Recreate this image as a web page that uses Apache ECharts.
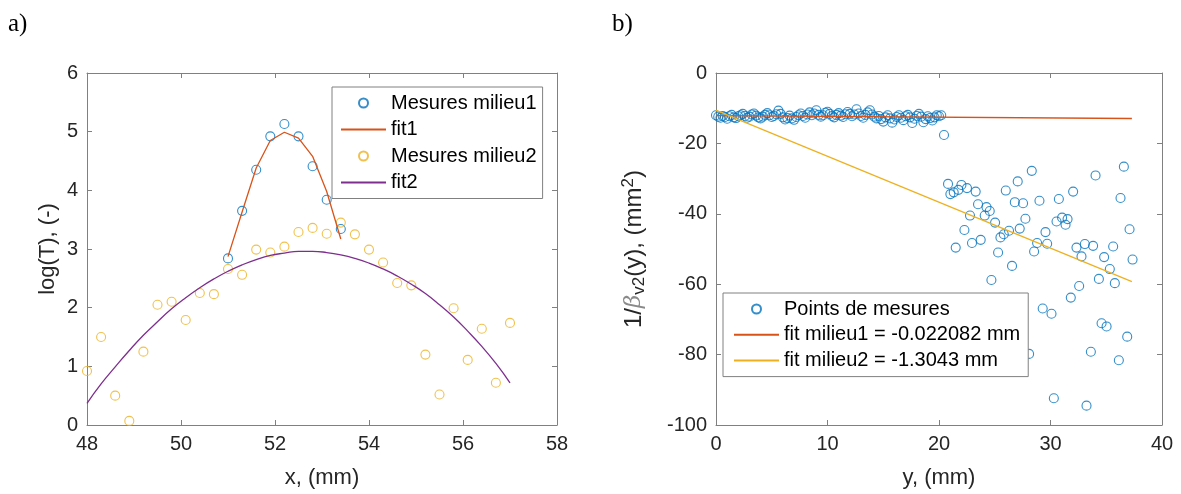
<!DOCTYPE html>
<html>
<head>
<meta charset="utf-8">
<script src="https://cdn.jsdelivr.net/npm/echarts@6/dist/echarts.min.js"></script>
<style>
html,body{margin:0;padding:0;background:#fff;}
#chart{width:1181px;height:494px;}
</style>
</head>
<body>
<div id="chart"></div>
<script>
// ---- Panel a) data ----
const xMilieu1 = [51.0, 51.3, 51.6, 51.9, 52.2, 52.5, 52.8, 53.1, 53.4];
const mesuresMilieu1 = [2.84, 3.65, 4.35, 4.92, 5.13, 4.92, 4.41, 3.84, 3.34];
const fit1Values = [2.87, 3.63, 4.38, 4.85, 4.99, 4.89, 4.58, 3.98, 3.17];

const xMilieu2 = [48.0, 48.3, 48.6, 48.9, 49.2, 49.5, 49.8, 50.1, 50.4, 50.7, 51.0, 51.3, 51.6, 51.9, 52.2, 52.5,
  52.8, 53.1, 53.4, 53.7, 54.0, 54.3, 54.6, 54.9, 55.2, 55.5, 55.8, 56.1, 56.4, 56.7, 57.0];
const mesuresMilieu2 = [0.92, 1.50, 0.50, 0.07, 1.25, 2.05, 2.10, 1.79, 2.25, 2.23, 2.66, 2.56, 2.99, 2.94, 3.04, 3.29,
  3.36, 3.26, 3.45, 3.25, 2.99, 2.77, 2.42, 2.38, 1.20, 0.52, 1.99, 1.11, 1.64, 0.72, 1.74];
const fit2Values = [0.37, 0.70, 0.99, 1.27, 1.53, 1.76, 1.98, 2.17, 2.34, 2.49, 2.62, 2.73, 2.82, 2.89, 2.93, 2.96,
  2.96, 2.94, 2.90, 2.84, 2.76, 2.66, 2.54, 2.40, 2.24, 2.05, 1.84, 1.60, 1.34, 1.05, 0.72];

// ---- Panel b) data ----
const bandX = [0.0, 0.2, 0.4, 0.6, 0.8, 1.0, 1.2, 1.4, 1.6, 1.8,
  2.0, 2.2, 2.4, 2.6, 2.8, 3.0, 3.2, 3.4, 3.6, 3.8,
  4.0, 4.2, 4.4, 4.6, 4.8, 5.0, 5.2, 5.4, 5.6, 5.8,
  6.0, 6.2, 6.4, 6.6, 6.8, 7.0, 7.2, 7.4, 7.6, 7.8,
  8.0, 8.2, 8.4, 8.6, 8.8, 9.0, 9.2, 9.4, 9.6, 9.8,
  10.0, 10.2, 10.4, 10.6, 10.8, 11.0, 11.2, 11.4, 11.6, 11.8,
  12.0, 12.2, 12.4, 12.6, 12.8, 13.0, 13.2, 13.4, 13.6, 13.8,
  14.0, 14.2, 14.4, 14.6, 14.8, 15.0, 15.2, 15.4, 15.6, 15.8,
  16.0, 16.2, 16.4, 16.6, 16.8, 17.0, 17.2, 17.4, 17.6, 17.8,
  18.0, 18.2, 18.4, 18.6, 18.8, 19.0, 19.2, 19.4, 19.6, 19.8,
  20.0, 20.2];
const bandY = [-12.0, -12.4, -12.7, -12.2, -12.5, -13.0, -12.3, -11.9, -12.6, -12.8,
  -12.3, -12.0, -11.6, -12.2, -12.7, -12.4, -11.8, -11.5, -12.1, -12.6,
  -12.9, -12.4, -11.9, -11.4, -12.0, -12.5, -12.2, -11.7, -10.7, -11.6,
  -12.6, -13.2, -12.8, -12.1, -12.9, -13.3, -12.5, -12.0, -11.5, -12.2,
  -12.7, -11.8, -11.2, -12.0, -11.5, -10.6, -11.9, -12.4, -12.0, -11.3,
  -11.0, -11.6, -12.2, -12.6, -11.9, -11.4, -12.1, -12.5, -11.7, -11.1,
  -11.6, -12.3, -11.8, -10.3, -11.5, -12.2, -12.7, -11.9, -11.2, -10.6,
  -11.8, -12.4, -12.9, -12.2, -13.1, -13.8, -12.6, -12.0, -12.9, -14.1,
  -13.2, -12.5, -12.0, -12.7, -13.4, -12.3, -11.9, -12.6, -14.2, -13.0,
  -12.2, -11.6, -12.4, -14.0, -13.1, -12.3, -12.8, -13.5, -12.6, -12.0,
  -12.3, -12.0];
const scatX = [20.45, 20.81, 21.02, 21.32, 21.74, 22.01, 22.51, 23.29, 22.78, 22.28, 21.50, 22.96, 23.74, 23.50,
  24.26, 24.10, 24.55, 25.03, 24.70, 25.30, 25.51, 25.81, 26.28, 26.55, 25.99, 27.06, 28.32, 26.80, 27.54,
  27.75, 27.24, 29.01, 28.53, 28.80, 29.55, 29.70, 30.54, 31.04, 31.53, 31.35, 30.75, 32.03, 34.04, 36.58,
  36.28, 37.09, 32.33, 33.08, 33.82, 32.78, 35.62, 34.81, 37.36, 35.32, 34.34, 35.77, 32.57, 31.82, 30.09,
  29.30, 34.58, 35.03, 36.88, 33.62, 36.13, 30.30, 33.23, 28.08];
const scatY = [-17.6, -31.5, -34.4, -33.9, -33.2, -31.8, -32.7, -33.7, -40.5, -44.6, -49.6, -48.3, -47.4, -37.3,
  -38.1, -40.5, -39.2, -42.5, -58.8, -51.0, -46.7, -45.8, -44.8, -54.8, -33.4, -30.8, -27.8, -36.7, -37.0,
  -41.4, -44.2, -36.3, -50.7, -48.3, -45.2, -48.5, -42.2, -41.1, -41.5, -43.1, -35.8, -33.7, -29.1, -26.6,
  -35.5, -44.4, -49.6, -48.6, -49.1, -52.1, -49.3, -52.3, -53.0, -55.7, -58.5, -59.7, -60.5, -63.8, -68.4,
  -66.9, -71.1, -72.0, -74.9, -79.2, -81.6, -92.4, -94.5, -79.8];
const fitLineX = [0, 37.3];
const fitMilieu1Y = [-12.10, -12.92];
const fitMilieu2Y = [-10.60, -59.25];

// tick settings
const ticksA_x = {min: 48, max: 58, interval: 2};
const ticksA_y = {min: 0, max: 6, interval: 1};
const ticksB_x = {min: 0, max: 40, interval: 10};
const ticksB_y = {min: -100, max: 0, interval: 20};

// ---- build ----
const FONT = '"Liberation Sans", Arial, sans-serif';
const AXC = '#808080';
const TXT = '#262626';
const BLUE = '#0072BD', ORANGE = '#D95319', YELLOW = '#EDB120', PURPLE = '#7E2F8E';

function zip(xs, ys) { return xs.map((x, i) => [x, ys[i]]); }

function axisBase(gi, t, pos, showLabel) {
  return {
    gridIndex: gi, type: 'value', min: t.min, max: t.max, interval: t.interval, position: pos,
    axisLine: {show: true, onZero: false, lineStyle: {color: AXC, width: 1}},
    axisTick: {show: true, inside: true, length: 5, lineStyle: {color: AXC}},
    axisLabel: {show: showLabel, color: TXT, fontSize: 20, fontFamily: FONT, margin: 9},
    splitLine: {show: false}
  };
}

const xA = axisBase(0, ticksA_x, 'bottom', true);
Object.assign(xA, {name: 'x, (mm)', nameLocation: 'middle', nameGap: 42,
  nameTextStyle: {color: TXT, fontSize: 22, fontFamily: FONT}});
const yA = axisBase(0, ticksA_y, 'left', true);
Object.assign(yA, {name: 'log(T), (-)', nameLocation: 'middle', nameGap: 28,
  nameTextStyle: {color: TXT, fontSize: 22, fontFamily: FONT}});
const xB = axisBase(1, ticksB_x, 'bottom', true);
Object.assign(xB, {name: 'y, (mm)', nameLocation: 'middle', nameGap: 42,
  nameTextStyle: {color: TXT, fontSize: 22, fontFamily: FONT}});
const yB = axisBase(1, ticksB_y, 'left', true);
Object.assign(yB, {
  name: '{n|1/}{b|β}{s|v2}{n|(y), (mm}{p|2}{n|)}', nameLocation: 'middle', nameGap: 68,
  nameTextStyle: {
    color: TXT, fontFamily: FONT,
    rich: {
      n: {fontSize: 24, fontFamily: FONT, color: TXT, lineHeight: 28, verticalAlign: 'middle'},
      b: {fontSize: 23, fontFamily: '"DejaVu Serif", serif', fontStyle: 'italic', color: '#8a8a8a', lineHeight: 28, verticalAlign: 'middle'},
      s: {fontSize: 17, fontFamily: FONT, color: TXT, lineHeight: 16, verticalAlign: 'bottom'},
      p: {fontSize: 17, fontFamily: FONT, color: TXT, lineHeight: 16, verticalAlign: 'top'}
    }
  }
});

const lineLegendItem = (name) => ({name: name, itemStyle: {opacity: 0}});

const option = {
  animation: false,
  backgroundColor: '#fff',
  title: [
    {text: 'a)', left: 8, top: 12, padding: 0, textStyle: {fontFamily: '"Liberation Serif", serif', fontSize: 25, fontWeight: 'normal', color: '#000'}},
    {text: 'b)', left: 612, top: 12, padding: 0, textStyle: {fontFamily: '"Liberation Serif", serif', fontSize: 25, fontWeight: 'normal', color: '#000'}}
  ],
  grid: [
    {left: 87, top: 73, width: 470, height: 352},
    {left: 716, top: 73, width: 446, height: 352}
  ],
  xAxis: [xA, axisBase(0, ticksA_x, 'top', false), xB, axisBase(1, ticksB_x, 'top', false)],
  yAxis: [yA, axisBase(0, ticksA_y, 'right', false), yB, axisBase(1, ticksB_y, 'right', false)],
  legend: [
    {
      orient: 'vertical', left: 332, top: 87, padding: [6, 6, 6, 8], itemGap: 6.5,
      itemWidth: 45, itemHeight: 9,
      backgroundColor: '#fff', borderColor: AXC, borderWidth: 1,
      textStyle: {fontSize: 20, fontFamily: FONT, color: '#000', lineHeight: 20},
      data: ['Mesures milieu1', lineLegendItem('fit1'), 'Mesures milieu2', lineLegendItem('fit2')]
    },
    {
      orient: 'vertical', left: 723, top: 293, padding: [6, 8, 6, 10], itemGap: 5.8,
      itemWidth: 45, itemHeight: 9,
      backgroundColor: '#fff', borderColor: AXC, borderWidth: 1,
      textStyle: {fontSize: 20, fontFamily: FONT, color: '#000', lineHeight: 20},
      data: ['Points de mesures', lineLegendItem('fit milieu1 = -0.022082 mm'), lineLegendItem('fit milieu2 = -1.3043 mm')]
    }
  ],
  series: [
    {name: 'Mesures milieu1', type: 'scatter', xAxisIndex: 0, yAxisIndex: 0, symbol: 'circle', symbolSize: 9,
      itemStyle: {color: 'rgba(0,0,0,0)', borderColor: BLUE, borderWidth: 1.1}, data: zip(xMilieu1, mesuresMilieu1)},
    {name: 'fit1', type: 'line', xAxisIndex: 0, yAxisIndex: 0, symbol: 'none',
      lineStyle: {color: ORANGE, width: 1.3}, itemStyle: {color: ORANGE}, data: zip(xMilieu1, fit1Values)},
    {name: 'Mesures milieu2', type: 'scatter', xAxisIndex: 0, yAxisIndex: 0, symbol: 'circle', symbolSize: 9,
      itemStyle: {color: 'rgba(0,0,0,0)', borderColor: YELLOW, borderWidth: 1.1}, data: zip(xMilieu2, mesuresMilieu2)},
    {name: 'fit2', type: 'line', xAxisIndex: 0, yAxisIndex: 0, symbol: 'none', smooth: true,
      lineStyle: {color: PURPLE, width: 1.3}, itemStyle: {color: PURPLE}, data: zip(xMilieu2, fit2Values)},
    {name: 'Points de mesures', type: 'scatter', xAxisIndex: 2, yAxisIndex: 2, symbol: 'circle', symbolSize: 9,
      itemStyle: {color: 'rgba(0,0,0,0)', borderColor: BLUE, borderWidth: 1.1},
      data: zip(bandX, bandY).concat(zip(scatX, scatY))},
    {name: 'fit milieu1 = -0.022082 mm', type: 'line', xAxisIndex: 2, yAxisIndex: 2, symbol: 'none',
      lineStyle: {color: ORANGE, width: 1.3}, itemStyle: {color: ORANGE}, data: zip(fitLineX, fitMilieu1Y)},
    {name: 'fit milieu2 = -1.3043 mm', type: 'line', xAxisIndex: 2, yAxisIndex: 2, symbol: 'none',
      lineStyle: {color: YELLOW, width: 1.3}, itemStyle: {color: YELLOW}, data: zip(fitLineX, fitMilieu2Y)}
  ]
};

const chart = echarts.init(document.getElementById('chart'), null, {renderer: 'canvas'});
chart.setOption(option);
</script>
</body>
</html>
